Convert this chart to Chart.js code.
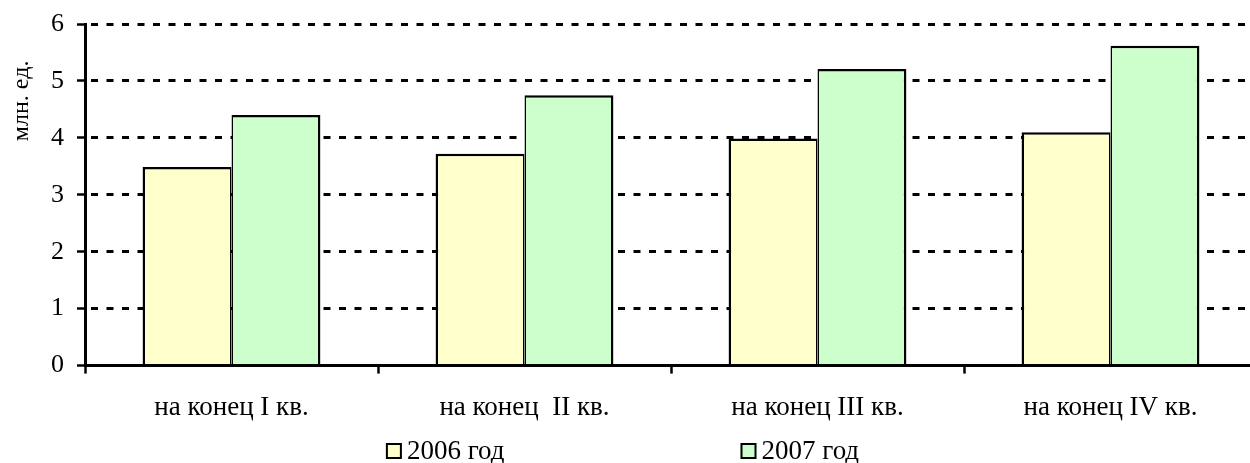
<!DOCTYPE html>
<html lang="ru">
<head>
    <meta charset="UTF-8">
    <title>млн. ед.</title>
    <script src="https://cdn.jsdelivr.net/npm/chart.js"></script>
    <style>
        body { margin: 0; overflow: hidden; background: #fff; }
        #wrap { width: 1257px; height: 463px; }
    </style>
</head>
<body>
    <div id="wrap">
        <canvas id="barChart" width="1257" height="463"></canvas>
    </div>

    <script>
        // данные
        var categories = ['на конец I кв.', 'на конец  II кв.', 'на конец III кв.', 'на конец IV кв.'];
        var seriesNames = ['2006 год', '2007 год'];
        var values2006 = [3.49, 3.72, 3.99, 4.10];
        var values2007 = [4.40, 4.75, 5.21, 5.62];
        var yTicks = [0, 1, 2, 3, 4, 5, 6];
        var yTitle = 'млн. ед.';

        var FONT = "'Liberation Serif', 'Times New Roman', serif";

        // подпись оси Y и легенда рисуются вручную
        var extras = {
            id: 'extras',
            afterDraw: function (chart) {
                var ctx = chart.ctx;
                var y = chart.scales.y;
                ctx.save();
                ctx.fillStyle = '#000';
                ctx.font = '24px ' + FONT;
                ctx.textAlign = 'center';
                ctx.textBaseline = 'middle';
                ctx.translate(22, y.getPixelForValue(4.65));
                ctx.rotate(-Math.PI / 2);
                ctx.fillText(yTitle, 0, 0);
                ctx.restore();

                // легенда
                ctx.save();
                ctx.font = '27px ' + FONT;
                ctx.textBaseline = 'middle';
                ctx.textAlign = 'left';
                var box = 16, gapText = 5, gapItems = 236, ly = 451;
                var widths = chart.data.datasets.map(function (ds) {
                    return box + gapText + ctx.measureText(ds.label).width;
                });
                var total = widths[0] + gapItems + widths[1];
                var x = chart.width / 2 - total / 2 - 6;
                chart.data.datasets.forEach(function (ds, i) {
                    ctx.fillStyle = ds.backgroundColor;
                    ctx.fillRect(x, ly - box / 2, box, box);
                    ctx.lineWidth = 2;
                    ctx.strokeStyle = '#000';
                    ctx.strokeRect(x + 1, ly - box / 2 + 1, box - 2, box - 2);
                    ctx.fillStyle = '#000';
                    ctx.fillText(ds.label, x + box + gapText, ly + 1);
                    x += widths[i] + gapItems;
                });
                ctx.restore();
            }
        };

        var ctx = document.getElementById('barChart').getContext('2d');
        var chart = new Chart(ctx, {
            type: 'bar',
            data: {
                labels: categories,
                datasets: [{
                    label: seriesNames[0],
                    data: values2006,
                    backgroundColor: '#FFFFCC',
                    borderColor: '#000',
                    borderWidth: { top: 2.5, left: 2.5, right: 1.5, bottom: 0 },
                    borderSkipped: false
                }, {
                    label: seriesNames[1],
                    data: values2007,
                    backgroundColor: '#CCFFCC',
                    borderColor: '#000',
                    borderWidth: { top: 2.5, left: 1.5, right: 2.5, bottom: 0 },
                    borderSkipped: false
                }]
            },
            options: {
                responsive: false,
                animation: false,
                devicePixelRatio: 1,
                layout: { padding: { top: 24, right: 0, bottom: 21, left: 0 } },
                categoryPercentage: 0.607,
                barPercentage: 1.0,
                plugins: {
                    legend: { display: false },
                    tooltip: { enabled: false }
                },
                scales: {
                    x: {
                        grid: {
                            offset: true,
                            drawOnChartArea: false,
                            drawTicks: true,
                            tickLength: 8,
                            tickColor: '#000',
                            tickWidth: 2.5
                        },
                        border: { display: true, color: '#000', width: 3 },
                        ticks: {
                            color: '#000',
                            padding: 18,
                            maxRotation: 0,
                            autoSkip: false,
                            font: { family: FONT, size: 27 }
                        }
                    },
                    y: {
                        min: 0,
                        max: 6,
                        afterFit: function (scale) {
                            scale.width = 85;
                            scale.paddingTop = 0;
                            scale.paddingBottom = 0;
                        },
                        afterBuildTicks: function (scale) {
                            scale.ticks = yTicks.map(function (v) { return { value: v }; });
                        },
                        grid: {
                            color: '#000',
                            lineWidth: 3,
                            drawTicks: true,
                            tickLength: 8,
                            tickColor: '#000',
                            tickWidth: 2.5
                        },
                        border: { display: true, color: '#000', width: 3, dash: [7, 8.5], dashOffset: -4 },
                        ticks: {
                            color: '#000',
                            padding: 13,
                            font: { family: FONT, size: 26 }
                        }
                    }
                }
            },
            plugins: [extras]
        });
    </script>
</body>
</html>
